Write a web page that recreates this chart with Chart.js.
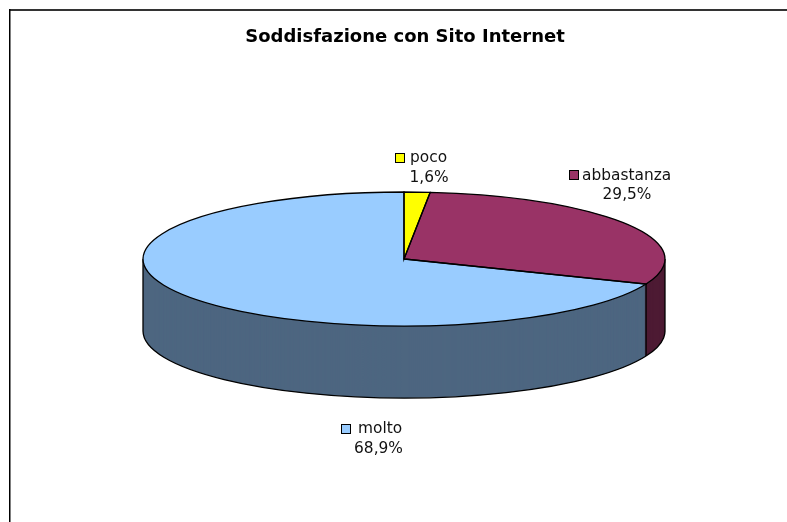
<!DOCTYPE html>
<html>
<head>
<meta charset="utf-8">
<style>
  html, body { margin: 0; padding: 0; background: #fff; }
  #wrap { position: relative; width: 787px; height: 522px; overflow: hidden; }
  canvas { display: block; }
</style>
<script src="https://cdn.jsdelivr.net/npm/chart.js@4/dist/chart.umd.min.js"></script>
</head>
<body>
<div id="wrap"><canvas id="chart" width="787" height="522"></canvas></div>
<script>
const categories = ['poco', 'abbastanza', 'molto'];
const values = [1.6, 29.5, 68.9];
const valueLabels = ['1,6%', '29,5%', '68,9%'];
const topColors = ['#ffff00', '#993366', '#99ccff'];
const sideColors = ['#80800a', '#4d1a33', '#4d6680'];
const titleText = 'Soddisfazione con Sito Internet';

// where the flattened pie sits on the page
const pieX = 404, pieY = 259, pieRx = 261, pieRy = 67, pieDepth = 72;

// legend key + label + value for each slice
const labelSpots = [
  { keyX: 395, keyY: 153, textX: 410, textY: 158, valueX: 429, valueY: 178 },
  { keyX: 569, keyY: 170, textX: 582, textY: 176, valueX: 627, valueY: 195 },
  { keyX: 341, keyY: 424, textX: 358, textY: 429, valueX: 378.5, valueY: 449 }
];

function flatten(ctx, arc, dy) {
  ctx.translate(pieX, pieY + dy);
  ctx.scale(1, pieRy / pieRx);
  ctx.translate(-arc.x, -arc.y);
}

function outline(ctx, arc, dy, closed) {
  ctx.save();
  flatten(ctx, arc, dy);
  ctx.beginPath();
  if (closed) ctx.moveTo(arc.x, arc.y);
  ctx.arc(arc.x, arc.y, arc.outerRadius, arc.startAngle, arc.endAngle);
  if (closed) ctx.closePath();
  ctx.restore();
  ctx.lineWidth = 1.3;
  ctx.strokeStyle = '#000';
  ctx.stroke();
}

const pie3d = {
  id: 'pie3d',
  beforeDraw(chart) {
    const ctx = chart.ctx;
    // frame, top and left only
    ctx.save();
    ctx.fillStyle = '#333';
    ctx.fillRect(9, 9, 778, 2);
    ctx.fillStyle = '#000';
    ctx.fillRect(9, 9, 1.5, 513);
    ctx.restore();
  },
  beforeDatasetsDraw(chart) {
    const ctx = chart.ctx;
    const arcs = chart.getDatasetMeta(0).data;

    // side wall: stack of darker copies of the slices
    for (let d = pieDepth; d >= 1; d--) {
      arcs.forEach((arc, i) => {
        const opts = arc.options;
        arc.options = Object.assign({}, opts, { backgroundColor: sideColors[i], borderWidth: 0 });
        ctx.save();
        flatten(ctx, arc, d);
        arc.draw(ctx);
        ctx.restore();
        arc.options = opts;
      });
    }

    // bottom rim (front half only) and vertical edges
    ctx.save();
    ctx.beginPath();
    ctx.rect(0, pieY + pieDepth, chart.width, chart.height);
    ctx.clip();
    arcs.forEach(arc => outline(ctx, arc, pieDepth, false));
    ctx.restore();

    ctx.save();
    ctx.lineWidth = 1.3;
    ctx.strokeStyle = '#000';
    const split = arcs[1];
    const splitX = pieX + pieRx * Math.cos(split.endAngle);
    const splitY = pieY + pieRy * Math.sin(split.endAngle);
    [[pieX - pieRx, pieY], [pieX + pieRx, pieY], [splitX, splitY]].forEach(p => {
      ctx.beginPath();
      ctx.moveTo(p[0], p[1]);
      ctx.lineTo(p[0], p[1] + pieDepth);
      ctx.stroke();
    });
    ctx.restore();

    // top face is drawn by the library, flattened
    ctx.save();
    flatten(ctx, arcs[0], 0);
  },
  afterDatasetsDraw(chart) {
    const ctx = chart.ctx;
    ctx.restore();
    const arcs = chart.getDatasetMeta(0).data;
    arcs.forEach(arc => outline(ctx, arc, 0, true));

    ctx.save();
    ctx.font = '15.4px "DejaVu Sans"';
    ctx.textBaseline = 'middle';
    labelSpots.forEach((s, i) => {
      ctx.fillStyle = topColors[i];
      ctx.strokeStyle = '#000';
      ctx.lineWidth = 1;
      ctx.fillRect(s.keyX, s.keyY, 9, 9);
      ctx.strokeRect(s.keyX + 0.5, s.keyY + 0.5, 9, 9);
      ctx.fillStyle = '#111';
      ctx.textAlign = 'left';
      ctx.fillText(categories[i], s.textX, s.textY);
      ctx.textAlign = 'center';
      ctx.fillText(valueLabels[i], s.valueX, s.valueY);
    });
    ctx.restore();
  }
};

new Chart(document.getElementById('chart'), {
  type: 'pie',
  data: {
    labels: categories,
    datasets: [{
      data: values,
      backgroundColor: topColors,
      borderWidth: 0,
      radius: pieRx,
      clip: false
    }]
  },
  options: {
    responsive: false,
    animation: false,
    layout: { padding: { left: 23, top: 0 } },
    plugins: {
      legend: { display: false },
      tooltip: { enabled: false },
      title: {
        display: true,
        text: titleText,
        color: '#000',
        font: { family: '"DejaVu Sans"', size: 18, weight: 'bold' },
        padding: { top: 27, bottom: 8 }
      }
    }
  },
  plugins: [pie3d]
});
</script>
</body>
</html>
